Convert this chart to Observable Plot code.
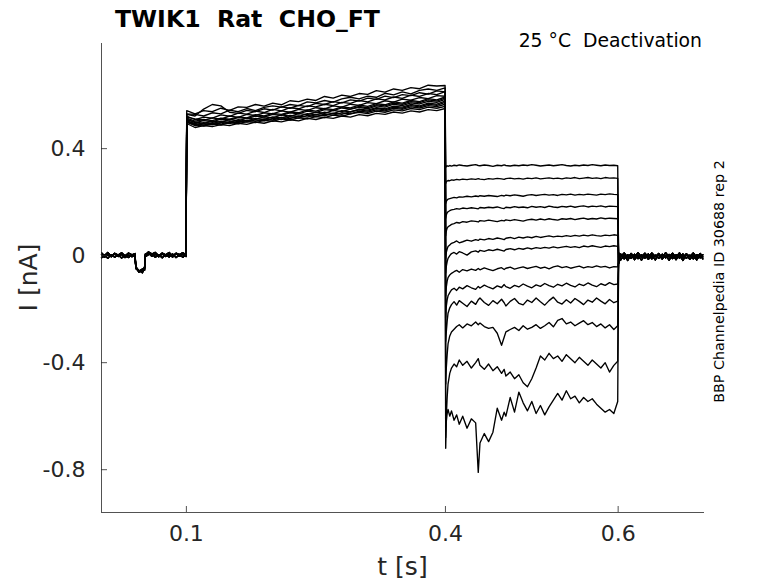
<!DOCTYPE html>
<html>
<head>
<meta charset="utf-8">
<script src="https://cdn.jsdelivr.net/npm/d3@7"></script>
<script src="https://cdn.jsdelivr.net/npm/@observablehq/plot@0.6"></script>
<style>
  html, body { margin: 0; padding: 0; background: #fff; }
  #chart { width: 778px; height: 583px; }
  svg text { font-family: "DejaVu Sans", sans-serif; }
</style>
</head>
<body>
<div id="chart"></div>
<script>
// ---------------- data ----------------
const title = "TWIK1  Rat  CHO_FT";
const subtitle = "25 °C  Deactivation";
const sideNote = "BBP Channelpedia ID 30688 rep 2";
const xLabel = "t [s]";
const yLabel = "I [nA]";

const xDomain = [0.0017, 0.7];
const yDomain = [-0.96, 0.793];
const xTicks = [0.1, 0.4, 0.6];
const xTickLabels = ["0.1", "0.4", "0.6"];
const yTicks = [-0.8, -0.4, 0, 0.4];
const yTickLabels = ["-0.8", "-0.4", "0", "0.4"];

// holding period before the step (three overlapping baseline variants)
const preT = [0.0018, 0.005, 0.009, 0.013, 0.017, 0.021, 0.025, 0.029, 0.033, 0.037, 0.0405, 0.0415, 0.045, 0.049, 0.0515, 0.0525, 0.056, 0.060, 0.064, 0.068, 0.072, 0.076, 0.080, 0.084, 0.088, 0.092, 0.096, 0.0996];
const preA = [0.004, -0.006, 0.003, -0.004, 0.006, -0.003, 0.005, -0.007, 0.002, -0.004, 0.003, -0.048, -0.058, -0.052, -0.055, 0.006, 0.010, -0.002, 0.005, -0.004, 0.006, -0.003, 0.004, -0.005, 0.007, -0.002, 0.005, -0.003];
const preB = [-0.008, 0.002, -0.010, 0.004, -0.006, 0.003, -0.009, 0.001, -0.007, 0.004, -0.005, -0.040, -0.062, -0.050, -0.046, -0.004, 0.004, 0.008, -0.006, 0.003, -0.008, 0.004, -0.005, 0.006, -0.007, 0.003, -0.006, 0.004];
const preC = [0.010, 0.000, 0.012, -0.002, 0.009, 0.002, 0.011, -0.001, 0.010, 0.003, 0.008, -0.045, -0.055, -0.064, -0.050, 0.002, 0.014, 0.006, 0.012, 0.000, 0.010, 0.003, 0.012, -0.001, 0.009, 0.004, 0.011, 0.002];

// activating step 0.1 - 0.4 s
const stepT = [0.1004, 0.11, 0.12, 0.13, 0.14, 0.15, 0.16, 0.17, 0.18, 0.19, 0.20, 0.21, 0.22, 0.23, 0.24, 0.25, 0.26, 0.27, 0.28, 0.29, 0.30, 0.31, 0.32, 0.33, 0.34, 0.35, 0.36, 0.37, 0.38, 0.39, 0.3996];
const step1 = [0.542, 0.530, 0.542, 0.538, 0.551, 0.543, 0.556, 0.554, 0.565, 0.559, 0.570, 0.564, 0.579, 0.576, 0.585, 0.580, 0.595, 0.589, 0.600, 0.595, 0.606, 0.603, 0.617, 0.611, 0.623, 0.618, 0.628, 0.624, 0.637, 0.634, 0.636];
const step2 = [0.530, 0.528, 0.522, 0.534, 0.530, 0.544, 0.538, 0.550, 0.542, 0.554, 0.560, 0.555, 0.565, 0.561, 0.575, 0.571, 0.580, 0.574, 0.586, 0.592, 0.586, 0.596, 0.592, 0.607, 0.601, 0.612, 0.605, 0.618, 0.623, 0.618, 0.627];
const step3 = [0.528, 0.522, 0.548, 0.565, 0.560, 0.536, 0.532, 0.543, 0.538, 0.549, 0.544, 0.556, 0.551, 0.562, 0.557, 0.569, 0.565, 0.576, 0.571, 0.582, 0.578, 0.589, 0.584, 0.596, 0.591, 0.602, 0.598, 0.609, 0.604, 0.616, 0.612];
const step4 = [0.522, 0.508, 0.518, 0.514, 0.526, 0.521, 0.533, 0.529, 0.540, 0.535, 0.547, 0.541, 0.553, 0.549, 0.560, 0.556, 0.566, 0.561, 0.573, 0.569, 0.580, 0.575, 0.586, 0.582, 0.593, 0.588, 0.600, 0.595, 0.606, 0.602, 0.613];
const step5 = [0.518, 0.511, 0.506, 0.515, 0.510, 0.522, 0.517, 0.528, 0.524, 0.534, 0.530, 0.541, 0.536, 0.547, 0.543, 0.553, 0.549, 0.560, 0.555, 0.566, 0.562, 0.572, 0.568, 0.579, 0.574, 0.585, 0.581, 0.591, 0.587, 0.598, 0.596];
const step6 = [0.514, 0.503, 0.509, 0.505, 0.514, 0.510, 0.519, 0.515, 0.527, 0.522, 0.532, 0.528, 0.537, 0.534, 0.545, 0.540, 0.550, 0.546, 0.556, 0.552, 0.563, 0.558, 0.568, 0.564, 0.575, 0.570, 0.580, 0.576, 0.587, 0.582, 0.593];
const step7 = [0.510, 0.497, 0.505, 0.500, 0.510, 0.507, 0.516, 0.512, 0.522, 0.518, 0.528, 0.524, 0.534, 0.530, 0.540, 0.535, 0.546, 0.542, 0.552, 0.548, 0.558, 0.553, 0.564, 0.560, 0.570, 0.566, 0.576, 0.572, 0.582, 0.578, 0.589];
const step8 = [0.508, 0.500, 0.494, 0.503, 0.499, 0.509, 0.504, 0.514, 0.510, 0.519, 0.515, 0.526, 0.521, 0.531, 0.527, 0.536, 0.532, 0.543, 0.538, 0.548, 0.554, 0.549, 0.560, 0.555, 0.566, 0.561, 0.571, 0.567, 0.577, 0.573, 0.584];
const step9 = [0.505, 0.490, 0.497, 0.493, 0.503, 0.498, 0.508, 0.504, 0.513, 0.509, 0.519, 0.515, 0.524, 0.520, 0.531, 0.526, 0.536, 0.531, 0.542, 0.537, 0.548, 0.544, 0.553, 0.549, 0.559, 0.555, 0.565, 0.560, 0.570, 0.566, 0.578];
const step10 = [0.503, 0.494, 0.488, 0.497, 0.492, 0.501, 0.497, 0.506, 0.502, 0.511, 0.507, 0.517, 0.512, 0.522, 0.518, 0.527, 0.523, 0.533, 0.528, 0.538, 0.545, 0.540, 0.550, 0.545, 0.555, 0.551, 0.561, 0.556, 0.566, 0.562, 0.573];
const step11 = [0.500, 0.486, 0.493, 0.489, 0.498, 0.494, 0.503, 0.499, 0.508, 0.504, 0.513, 0.509, 0.519, 0.514, 0.524, 0.520, 0.529, 0.525, 0.534, 0.530, 0.540, 0.536, 0.545, 0.541, 0.551, 0.547, 0.556, 0.552, 0.561, 0.557, 0.566];
const step12 = [0.498, 0.489, 0.484, 0.492, 0.488, 0.497, 0.493, 0.501, 0.497, 0.506, 0.502, 0.511, 0.507, 0.515, 0.511, 0.520, 0.516, 0.525, 0.521, 0.530, 0.536, 0.531, 0.540, 0.536, 0.545, 0.541, 0.550, 0.546, 0.555, 0.551, 0.558];
const step13 = [0.494, 0.479, 0.486, 0.482, 0.490, 0.486, 0.495, 0.491, 0.499, 0.495, 0.504, 0.500, 0.508, 0.504, 0.513, 0.509, 0.517, 0.513, 0.522, 0.518, 0.527, 0.523, 0.532, 0.528, 0.537, 0.533, 0.541, 0.537, 0.546, 0.542, 0.550];

// deactivation tails 0.4 - 0.6 s
const tailT = [0.4003, 0.401, 0.402, 0.403, 0.405, 0.407, 0.41, 0.413, 0.416, 0.42, 0.425, 0.43, 0.435, 0.438, 0.44, 0.445, 0.45, 0.455, 0.46, 0.465, 0.468, 0.47, 0.475, 0.48, 0.485, 0.49, 0.495, 0.5, 0.505, 0.51, 0.515, 0.52, 0.525, 0.53, 0.535, 0.54, 0.545, 0.55, 0.555, 0.56, 0.565, 0.57, 0.575, 0.58, 0.585, 0.59, 0.595, 0.5995];
const tail1 = [0.330, 0.333, 0.336, 0.334, 0.337, 0.335, 0.338, 0.336, 0.339, 0.337, 0.335, 0.338, 0.340, 0.337, 0.336, 0.339, 0.337, 0.334, 0.338, 0.336, 0.339, 0.337, 0.335, 0.338, 0.336, 0.339, 0.337, 0.340, 0.338, 0.335, 0.337, 0.339, 0.336, 0.338, 0.340, 0.337, 0.335, 0.338, 0.336, 0.339, 0.337, 0.340, 0.338, 0.336, 0.339, 0.337, 0.338, 0.336];
const tail2 = [0.270, 0.276, 0.279, 0.281, 0.280, 0.283, 0.282, 0.285, 0.283, 0.286, 0.284, 0.287, 0.285, 0.288, 0.286, 0.284, 0.288, 0.286, 0.289, 0.287, 0.285, 0.288, 0.290, 0.287, 0.289, 0.286, 0.290, 0.288, 0.291, 0.287, 0.289, 0.291, 0.288, 0.290, 0.287, 0.291, 0.289, 0.292, 0.288, 0.290, 0.292, 0.289, 0.291, 0.288, 0.292, 0.290, 0.291, 0.289];
const tail3 = [0.195, 0.203, 0.208, 0.211, 0.213, 0.215, 0.218, 0.216, 0.220, 0.219, 0.222, 0.220, 0.223, 0.221, 0.224, 0.222, 0.225, 0.223, 0.221, 0.225, 0.223, 0.226, 0.224, 0.227, 0.225, 0.222, 0.226, 0.228, 0.225, 0.227, 0.229, 0.226, 0.228, 0.225, 0.229, 0.227, 0.230, 0.226, 0.229, 0.227, 0.230, 0.228, 0.226, 0.230, 0.228, 0.231, 0.229, 0.228];
const tail4 = [0.140, 0.152, 0.160, 0.164, 0.168, 0.171, 0.173, 0.176, 0.174, 0.178, 0.176, 0.179, 0.177, 0.175, 0.180, 0.178, 0.181, 0.179, 0.182, 0.178, 0.176, 0.181, 0.179, 0.183, 0.180, 0.182, 0.179, 0.184, 0.181, 0.183, 0.180, 0.185, 0.182, 0.180, 0.184, 0.182, 0.185, 0.181, 0.184, 0.186, 0.182, 0.185, 0.183, 0.186, 0.182, 0.185, 0.184, 0.183];
const tail5 = [0.075, 0.092, 0.103, 0.108, 0.112, 0.117, 0.120, 0.124, 0.122, 0.127, 0.125, 0.130, 0.128, 0.126, 0.131, 0.129, 0.133, 0.130, 0.127, 0.132, 0.130, 0.134, 0.131, 0.135, 0.132, 0.129, 0.134, 0.136, 0.133, 0.137, 0.134, 0.138, 0.135, 0.133, 0.138, 0.136, 0.139, 0.135, 0.138, 0.140, 0.136, 0.139, 0.137, 0.141, 0.138, 0.140, 0.139, 0.138];
const tail6 = [-0.010, 0.012, 0.025, 0.034, 0.040, 0.046, 0.050, 0.055, 0.048, 0.052, 0.058, 0.054, 0.060, 0.057, 0.062, 0.059, 0.064, 0.061, 0.066, 0.063, 0.060, 0.065, 0.068, 0.064, 0.069, 0.066, 0.070, 0.067, 0.072, 0.068, 0.071, 0.074, 0.070, 0.073, 0.071, 0.075, 0.072, 0.076, 0.073, 0.077, 0.074, 0.078, 0.075, 0.073, 0.077, 0.075, 0.078, 0.076];
const tail7 = [-0.065, -0.040, -0.022, -0.010, 0.000, 0.008, 0.012, 0.006, 0.015, 0.010, 0.002, 0.014, 0.018, 0.013, 0.020, 0.016, 0.022, 0.019, 0.024, 0.020, 0.017, 0.023, 0.026, 0.022, 0.027, 0.024, 0.029, 0.025, 0.030, 0.027, 0.031, 0.028, 0.033, 0.029, 0.032, 0.035, 0.031, 0.034, 0.030, 0.036, 0.033, 0.037, 0.034, 0.031, 0.036, 0.034, 0.037, 0.035];
const tail8 = [-0.150, -0.118, -0.095, -0.082, -0.072, -0.066, -0.060, -0.055, -0.062, -0.052, -0.057, -0.050, -0.055, -0.048, -0.053, -0.046, -0.051, -0.056, -0.049, -0.045, -0.052, -0.047, -0.043, -0.050, -0.046, -0.042, -0.048, -0.044, -0.040, -0.047, -0.043, -0.049, -0.042, -0.038, -0.045, -0.041, -0.047, -0.043, -0.039, -0.046, -0.041, -0.044, -0.038, -0.043, -0.040, -0.046, -0.041, -0.042];
const tail9 = [-0.230, -0.190, -0.165, -0.150, -0.138, -0.128, -0.122, -0.130, -0.118, -0.124, -0.112, -0.120, -0.126, -0.115, -0.121, -0.110, -0.118, -0.124, -0.113, -0.119, -0.108, -0.116, -0.122, -0.111, -0.117, -0.106, -0.114, -0.120, -0.109, -0.115, -0.104, -0.112, -0.118, -0.107, -0.113, -0.103, -0.111, -0.117, -0.106, -0.112, -0.102, -0.110, -0.116, -0.105, -0.111, -0.101, -0.108, -0.106];
const tail10 = [-0.320, -0.285, -0.245, -0.215, -0.195, -0.183, -0.172, -0.185, -0.168, -0.178, -0.190, -0.170, -0.182, -0.165, -0.158, -0.175, -0.186, -0.168, -0.180, -0.163, -0.176, -0.188, -0.171, -0.160, -0.178, -0.184, -0.166, -0.175, -0.158, -0.172, -0.185, -0.168, -0.155, -0.174, -0.181, -0.165, -0.177, -0.160, -0.171, -0.183, -0.166, -0.174, -0.158, -0.170, -0.180, -0.164, -0.176, -0.170];
const tail11 = [-0.480, -0.420, -0.370, -0.330, -0.300, -0.285, -0.275, -0.265, -0.258, -0.270, -0.255, -0.262, -0.248, -0.258, -0.252, -0.265, -0.272, -0.268, -0.290, -0.335, -0.305, -0.285, -0.276, -0.268, -0.280, -0.262, -0.275, -0.268, -0.258, -0.272, -0.262, -0.250, -0.266, -0.242, -0.235, -0.255, -0.248, -0.262, -0.252, -0.243, -0.258, -0.250, -0.265, -0.255, -0.270, -0.258, -0.276, -0.262];
const tail12 = [-0.680, -0.600, -0.530, -0.480, -0.440, -0.420, -0.405, -0.415, -0.390, -0.410, -0.395, -0.420, -0.400, -0.385, -0.410, -0.425, -0.405, -0.430, -0.415, -0.440, -0.425, -0.450, -0.435, -0.460, -0.445, -0.475, -0.490, -0.460, -0.420, -0.375, -0.390, -0.365, -0.385, -0.375, -0.395, -0.370, -0.385, -0.400, -0.380, -0.395, -0.410, -0.390, -0.405, -0.420, -0.400, -0.435, -0.410, -0.395];
const tail13 = [-0.720, -0.620, -0.590, -0.575, -0.600, -0.580, -0.615, -0.595, -0.630, -0.600, -0.645, -0.610, -0.625, -0.810, -0.700, -0.665, -0.695, -0.660, -0.570, -0.615, -0.585, -0.600, -0.530, -0.585, -0.510, -0.550, -0.580, -0.545, -0.590, -0.560, -0.595, -0.565, -0.540, -0.515, -0.540, -0.505, -0.535, -0.525, -0.550, -0.530, -0.545, -0.535, -0.555, -0.570, -0.585, -0.575, -0.590, -0.545];

// return to holding 0.6 - 0.7 s (three overlapping baseline variants)
const postT = [0.6005, 0.603, 0.607, 0.611, 0.615, 0.619, 0.623, 0.627, 0.631, 0.635, 0.639, 0.643, 0.647, 0.651, 0.655, 0.659, 0.663, 0.667, 0.671, 0.675, 0.679, 0.683, 0.687, 0.691, 0.695, 0.698];
const postA = [-0.020, 0.006, -0.012, 0.004, -0.010, 0.005, -0.011, 0.003, -0.009, 0.006, -0.012, 0.002, -0.010, 0.005, -0.008, 0.004, -0.011, 0.003, -0.009, 0.006, -0.010, 0.002, -0.012, 0.004, -0.008, 0.003];
const postB = [0.012, -0.016, 0.002, -0.018, 0.004, -0.015, 0.001, -0.017, 0.003, -0.014, 0.002, -0.016, 0.004, -0.013, 0.001, -0.017, 0.003, -0.015, 0.002, -0.018, 0.004, -0.014, 0.001, -0.016, 0.003, -0.012];
const postC = [-0.030, -0.004, 0.010, -0.008, 0.008, -0.006, 0.011, -0.005, 0.009, -0.007, 0.010, -0.004, 0.008, -0.009, 0.011, -0.005, 0.009, -0.006, 0.010, -0.008, 0.007, -0.004, 0.010, -0.007, 0.008, -0.005];

// ---------------- assemble sweeps ----------------
const preSets = [preA, preB, preC];
const postSets = [postA, postB, postC];
const steps = [step1, step2, step3, step4, step5, step6, step7, step8, step9, step10, step11, step12, step13];
const tails = [tail1, tail2, tail3, tail4, tail5, tail6, tail7, tail8, tail9, tail10, tail11, tail12, tail13];

const rows = [];
steps.forEach((st, k) => {
  const pre = preSets[k % 3], post = postSets[k % 3], tl = tails[k];
  preT.forEach((t, j) => rows.push({sweep: k, t, i: pre[j]}));
  stepT.forEach((t, j) => rows.push({sweep: k, t, i: st[j]}));
  tailT.forEach((t, j) => rows.push({sweep: k, t, i: tl[j]}));
  postT.forEach((t, j) => rows.push({sweep: k, t, i: post[j]}));
});

// ---------------- plot ----------------
const W = 778, H = 583;
const mL = 101, mR = 74, mT = 43, mB = 71;
const innerW = W - mL - mR, innerH = H - mT - mB;
const axisColor = "#262626";
const tickLen = 6;

const chart = Plot.plot({
  width: W, height: H,
  marginLeft: mL, marginRight: mR, marginTop: mT, marginBottom: mB,
  x: {domain: xDomain},
  y: {domain: yDomain},
  style: {background: "white", fontFamily: "DejaVu Sans", color: axisColor},
  marks: [
    Plot.line(rows, {x: "t", y: "i", z: "sweep", stroke: "black", strokeWidth: 1.35}),
    Plot.ruleX([xDomain[0]], {stroke: axisColor, strokeWidth: 0.8}),
    Plot.ruleY([yDomain[0]], {stroke: axisColor, strokeWidth: 0.8}),
    Plot.tickX(xTicks, {x: d => d, insetTop: innerH - tickLen, stroke: axisColor, strokeWidth: 0.8}),
    Plot.tickY(yTicks, {y: d => d, insetRight: innerW - tickLen, stroke: axisColor, strokeWidth: 0.8}),
    Plot.axisX(xTicks, {tickSize: 0, tickPadding: 13, fontSize: 22, fill: axisColor,
      tickFormat: d => xTickLabels[xTicks.indexOf(d)], label: null}),
    Plot.axisY(yTicks, {tickSize: 0, tickPadding: 16, fontSize: 22, fill: axisColor,
      tickFormat: d => yTickLabels[yTicks.indexOf(d)], label: null})
  ]
});
document.getElementById("chart").appendChild(chart);

// ---------------- texts ----------------
const svg = d3.select(chart);
svg.append("text").attr("x", 115).attr("y", 27).attr("text-anchor", "start")
  .attr("font-size", 23.6).attr("font-weight", "bold").attr("fill", "black")
  .style("white-space", "pre").text(title);
svg.append("text").attr("x", 702).attr("y", 47).attr("text-anchor", "end")
  .attr("font-size", 18.8).attr("fill", "black")
  .style("white-space", "pre").text(subtitle);
svg.append("text").attr("transform", "translate(724,281.5) rotate(-90)")
  .attr("text-anchor", "middle").attr("font-size", 14.3).attr("fill", "black")
  .text(sideNote);
svg.append("text").attr("transform", "translate(36.7,277.5) rotate(-90)")
  .attr("text-anchor", "middle").attr("font-size", 25).attr("fill", axisColor)
  .style("white-space", "pre").text(yLabel);
svg.append("text").attr("x", 402.5).attr("y", 575)
  .attr("text-anchor", "middle").attr("font-size", 25).attr("fill", axisColor)
  .style("white-space", "pre").text(xLabel);
</script>
</body>
</html>
